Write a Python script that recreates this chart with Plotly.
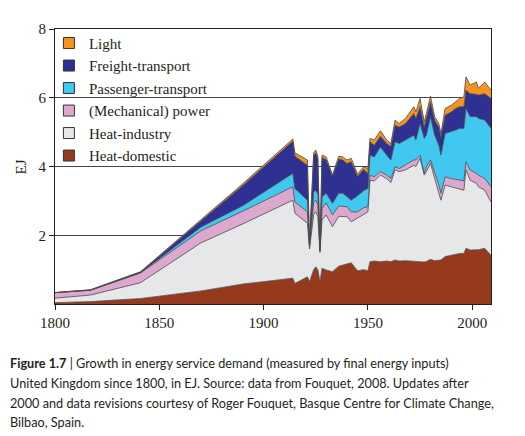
import numpy as np
import plotly.graph_objects as go

years = [1800, 1817, 1841, 1870, 1890, 1914, 1915, 1921, 1922, 1924, 1925, 1926, 1927, 1928,
         1930, 1933, 1936, 1938, 1940, 1942, 1945, 1948, 1950, 1951, 1953, 1956, 1959, 1961,
         1963, 1965, 1968, 1972, 1973, 1975, 1977, 1978, 1980, 1982, 1984, 1985, 1987, 1990,
         1992, 1994, 1996, 1997, 1999, 2002, 2003, 2006, 2009]

# cumulative upper edge of each band (EJ)
top_heat_domestic = [0.04, 0.07, 0.16, 0.38, 0.58, 0.75, 0.60, 0.79, 0.65, 1.00, 1.08, 1.00, 0.65, 1.04,
                     0.99, 0.94, 1.10, 1.13, 1.15, 1.20, 0.97, 1.00, 0.97, 1.23, 1.25, 1.23, 1.25, 1.23,
                     1.28, 1.25, 1.26, 1.25, 1.24, 1.24, 1.22, 1.24, 1.30, 1.26, 1.27, 1.28, 1.38, 1.42,
                     1.44, 1.47, 1.47, 1.62, 1.57, 1.57, 1.58, 1.62, 1.42]
top_heat_industry = [0.17, 0.26, 0.62, 1.78, 2.33, 3.02, 2.64, 2.35, 1.60, 2.60, 2.68, 2.55, 1.50, 2.44,
                     2.59, 2.25, 2.55, 2.54, 2.54, 2.39, 2.50, 2.62, 2.68, 3.60, 3.58, 3.75, 3.65, 3.53,
                     3.90, 3.85, 3.90, 4.04, 4.00, 4.24, 3.75, 3.85, 4.09, 3.65, 3.26, 3.02, 3.46, 3.41,
                     3.38, 3.36, 3.31, 3.90, 3.60, 3.51, 3.41, 3.31, 2.97]
top_mech_power = [0.33, 0.40, 0.90, 2.13, 2.70, 3.41, 2.97, 2.68, 1.66, 2.95, 3.02, 2.90, 1.55, 2.78,
                  2.94, 2.59, 2.85, 2.83, 2.83, 2.68, 2.68, 2.80, 2.83, 3.75, 3.70, 3.85, 3.75, 3.65,
                  3.99, 3.94, 4.04, 4.19, 4.19, 4.33, 3.80, 3.99, 4.19, 3.85, 3.46, 3.22, 3.70, 3.65,
                  3.62, 3.60, 3.58, 4.14, 3.90, 3.80, 3.75, 3.65, 3.41]
top_passenger = [0.33, 0.40, 0.91, 2.24, 2.86, 3.80, 3.36, 3.02, 1.70, 3.25, 3.31, 3.20, 1.58, 3.12,
                 3.22, 2.93, 3.22, 3.22, 3.12, 3.02, 3.15, 3.30, 3.36, 4.33, 4.28, 4.57, 4.33, 4.19,
                 4.72, 4.67, 4.77, 4.91, 4.77, 5.25, 4.82, 4.91, 5.45, 4.91, 4.62, 4.33, 4.96, 5.01,
                 5.06, 5.11, 5.11, 5.69, 5.45, 5.45, 5.40, 5.35, 5.11]
top_freight = [0.33, 0.41, 0.93, 2.43, 3.45, 4.74, 4.30, 4.04, 1.76, 4.32, 4.40, 4.22, 1.62, 4.26,
               4.20, 3.72, 4.22, 4.19, 4.09, 4.14, 3.72, 3.92, 3.80, 4.72, 4.62, 4.88, 4.67, 4.58,
               5.20, 5.15, 5.25, 5.54, 5.40, 5.74, 5.15, 5.40, 5.88, 5.35, 5.15, 4.86, 5.49, 5.59,
               5.69, 5.74, 5.74, 6.22, 6.12, 6.10, 6.08, 6.12, 5.98]
top_light = [0.335, 0.415, 0.94, 2.46, 3.50, 4.80, 4.40, 4.19, 1.78, 4.40, 4.48, 4.30, 1.64, 4.33,
             4.28, 3.75, 4.30, 4.28, 4.19, 4.24, 3.78, 4.00, 3.94, 4.82, 4.77, 5.04, 4.77, 4.67,
             5.35, 5.25, 5.40, 5.74, 5.59, 5.98, 5.30, 5.54, 6.05, 5.45, 5.25, 4.96, 5.69, 5.78,
             5.88, 5.98, 6.03, 6.61, 6.37, 6.46, 6.27, 6.46, 6.22]

series_names = ["Heat-domestic", "Heat-industry", "(Mechanical) power",
                "Passenger-transport", "Freight-transport", "Light"]
series_colors = ["#963A1E", "#E6E7E8", "#DDA8CE", "#40C8F0", "#2E3192", "#F7941E"]

tops = np.array([top_heat_domestic, top_heat_industry, top_mech_power,
                 top_passenger, top_freight, top_light])
values = np.diff(np.vstack([np.zeros(len(years)), tops]), axis=0)

y_ticks = [2, 4, 6, 8]
x_ticks = [1800, 1850, 1900, 1950, 2000]

fig = go.Figure()
for name, col, vals in zip(series_names, series_colors, values):
    fig.add_trace(go.Scatter(
        x=years, y=vals, name=name, stackgroup="one", mode="lines",
        line=dict(color="#4a4a4a", width=0.8), fillcolor=col, showlegend=False,
        hoverinfo="skip"))

# legend entries (top to bottom)
for name, col in reversed(list(zip(series_names, series_colors))):
    fig.add_trace(go.Scatter(
        x=[None], y=[None], name=name, mode="markers", legendgroup=name,
        marker=dict(symbol="square", size=11, color=col,
                    line=dict(color="#333333", width=1))))

serif = "Liberation Serif, Times New Roman, serif"
sans = "Lato, Open Sans, sans-serif"

# the page body adds an 8px offset at top-left; the figure is sized to compensate
fig.update_layout(
    width=517, height=428,
    margin=dict(l=47, r=34, t=21, b=132),
    paper_bgcolor="white", plot_bgcolor="white",
    font=dict(family=serif, size=15, color="#231F20"),
    showlegend=True,
    legend=dict(x=-0.014, y=1.008, xanchor="left", yanchor="top",
                bgcolor="rgba(0,0,0,0)", traceorder="grouped",
                tracegroupgap=0, font=dict(family=serif, size=15, color="#231F20"),
                itemclick=False),
    xaxis=dict(range=[1800, 2009], tickvals=x_ticks, showgrid=False, zeroline=False,
               showline=True, linecolor="#231F20", linewidth=1, mirror=True,
               ticks="outside", ticklen=5, tickcolor="#231F20",
               tickfont=dict(family=serif, size=15, color="#231F20")),
    yaxis=dict(range=[0, 8], tickvals=y_ticks, showgrid=True, gridcolor="#444444",
               gridwidth=1, zeroline=False,
               showline=True, linecolor="#231F20", linewidth=1, mirror=True,
               ticks="outside", ticklen=5, tickcolor="#231F20",
               tickfont=dict(family=serif, size=15, color="#231F20")),
    shapes=[dict(type="rect", xref="paper", yref="paper", x0=0.0275, x1=0.4427,
                 y0=0.516, y1=0.989, fillcolor="white", line=dict(width=0),
                 layer="between")],
)

annotations = [
    dict(text="EJ", xref="paper", yref="paper", x=-0.078, y=0.5, textangle=-90,
         showarrow=False, font=dict(family=serif, size=15, color="#231F20"),
         xanchor="center", yanchor="middle"),
]
caption_lines = [
    "<b>Figure 1.7</b> | Growth in energy service demand (measured by final energy inputs)",
    "United Kingdom since 1800, in EJ. Source: data from Fouquet, 2008. Updates after",
    "2000 and data revisions courtesy of Roger Fouquet, Basque Centre for Climate Change,",
    "Bilbao, Spain.",
]
caption_y = [363, 383, 402.7, 422]
for line, py in zip(caption_lines, caption_y):
    annotations.append(dict(text=line, xref="paper", yref="paper",
                            x=(8 - 55) / 436, y=(304 - py) / 275,
                            xanchor="left", yanchor="middle", showarrow=False,
                            font=dict(family=sans, size=12.7, color="#231F20")))
fig.update_layout(annotations=annotations)

fig.write_html("out.html")
